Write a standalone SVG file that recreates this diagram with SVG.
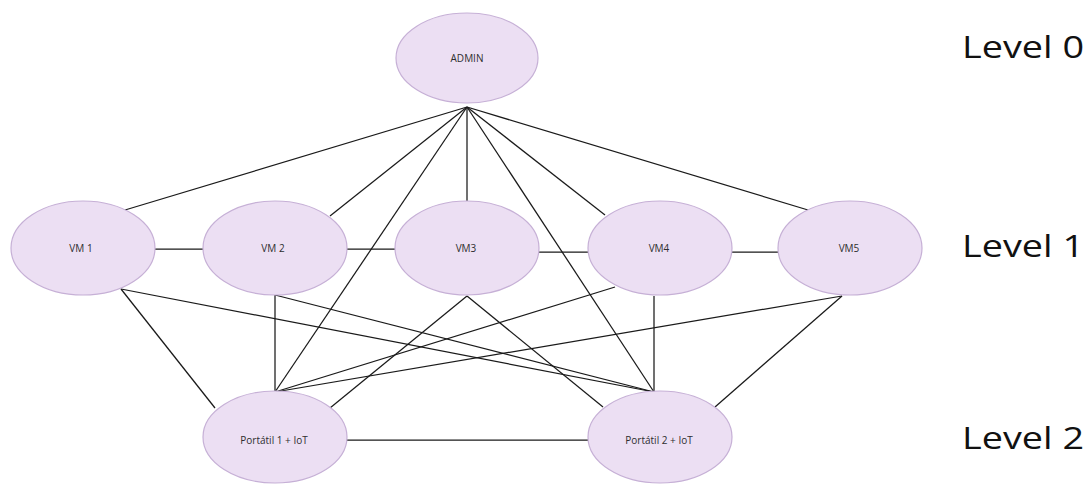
<svg xmlns="http://www.w3.org/2000/svg" width="1092" height="485" viewBox="0 0 1092 485">
  <style>
    .node ellipse { fill: #ecdff3; stroke: #c6b0d6; stroke-width: 1.2; }
    .node text { font-family: "Open Sans", "Noto Sans", "DejaVu Sans", sans-serif; font-size: 10px; fill: #2e2e2e; text-anchor: middle; }
    #edges line { stroke: #1a1a1a; stroke-width: 1.25; }
    .level { font-family: "Open Sans", "Noto Sans", "DejaVu Sans", sans-serif; font-size: 31px; fill: #111; }
  </style>
  <rect width="1092" height="485" fill="#fff"/>

  <!-- connectors -->
  <g id="edges">
    <!-- ADMIN to level 1 and level 2 -->
    <line x1="467" y1="107" x2="125" y2="210"/>
    <line x1="467" y1="107" x2="330" y2="216"/>
    <line x1="467" y1="107" x2="467" y2="201"/>
    <line x1="467" y1="107" x2="605" y2="215"/>
    <line x1="467" y1="107" x2="808" y2="210"/>
    <line x1="467" y1="107" x2="275" y2="392"/>
    <line x1="467" y1="107" x2="654" y2="392"/>
    <!-- level 1 chain -->
    <line x1="155" y1="249" x2="203" y2="249"/>
    <line x1="347" y1="249" x2="395" y2="249"/>
    <line x1="539" y1="252" x2="588" y2="252"/>
    <line x1="732" y1="252" x2="778" y2="252"/>
    <!-- level 1 to level 2 -->
    <line x1="121" y1="289" x2="215" y2="408"/>
    <line x1="121" y1="289" x2="654" y2="392"/>
    <line x1="275" y1="295" x2="275" y2="392"/>
    <line x1="275" y1="295" x2="654" y2="392"/>
    <line x1="467" y1="296" x2="330" y2="408"/>
    <line x1="467" y1="296" x2="603" y2="407"/>
    <line x1="615" y1="287" x2="275" y2="392"/>
    <line x1="654" y1="296" x2="654" y2="392"/>
    <line x1="842" y1="296" x2="275" y2="392"/>
    <line x1="842" y1="296" x2="715" y2="407"/>
    <!-- level 2 -->
    <line x1="346" y1="440" x2="588" y2="440"/>
  </g>

  <g id="admin" class="node">
    <ellipse cx="467" cy="58" rx="71" ry="45"/>
    <text x="467" y="62">ADMIN</text>
  </g>
  <g id="vm1" class="node">
    <ellipse cx="83" cy="248" rx="72" ry="47"/>
    <text x="81" y="252">VM 1</text>
  </g>
  <g id="vm2" class="node">
    <ellipse cx="275" cy="248" rx="72" ry="47"/>
    <text x="273" y="252">VM 2</text>
  </g>
  <g id="vm3" class="node">
    <ellipse cx="467" cy="248" rx="72" ry="47"/>
    <text x="466" y="252">VM3</text>
  </g>
  <g id="vm4" class="node">
    <ellipse cx="660" cy="248" rx="72" ry="47"/>
    <text x="659" y="252">VM4</text>
  </g>
  <g id="vm5" class="node">
    <ellipse cx="850" cy="248" rx="72" ry="47"/>
    <text x="849" y="252">VM5</text>
  </g>
  <g id="portatil1" class="node">
    <ellipse cx="275" cy="437" rx="72" ry="46"/>
    <text x="274" y="444">Portátil 1 + IoT</text>
  </g>
  <g id="portatil2" class="node">
    <ellipse cx="660" cy="437" rx="72" ry="46"/>
    <text x="659" y="444">Portátil 2 + IoT</text>
  </g>

  <g id="levels">
    <text class="level" x="962" y="58" textLength="122" lengthAdjust="spacingAndGlyphs">Level 0</text>
    <text class="level" x="962" y="257" textLength="122" lengthAdjust="spacingAndGlyphs">Level 1</text>
    <text class="level" x="962" y="449" textLength="122" lengthAdjust="spacingAndGlyphs">Level 2</text>
  </g>
</svg>
